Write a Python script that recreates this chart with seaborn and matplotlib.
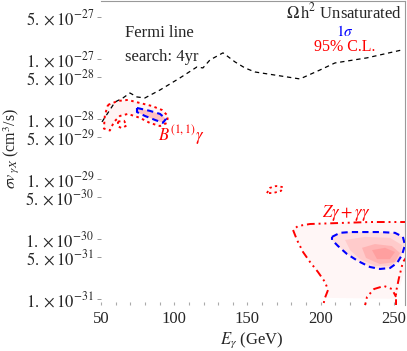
import numpy as np
import matplotlib
matplotlib.use("Agg")
import matplotlib.pyplot as plt
import seaborn as sns

# ------------------------------
# data (E in GeV, sigma v in cm^3/s)
# ------------------------------

# Fermi 4yr line search limit
fermi_E = [50.7, 56.1, 59.6, 65.0, 69.8, 74.6, 80.0, 90.3, 103.9, 115.5, 119.6, 124.4,
           133.3, 141.5, 148.3, 155.1, 185.8, 199.5, 209.7, 231.6, 255.5]
fermi_sv = [8.9e-29, 1.41e-28, 1.91e-28, 2.23e-28, 2.70e-28, 2.32e-28, 2.23e-28, 3.03e-28,
            4.81e-28, 7.33e-28, 7.06e-28, 9.6e-28, 1.26e-27, 8.9e-28, 7.06e-28, 6.05e-28,
            4.63e-28, 6.53e-28, 8.55e-28, 1.04e-27, 1.41e-27]

# B(1,1) gamma region: 1 sigma and 95% C.L.
b_1s_E = [74.6, 83.4, 90.3, 94.4, 92.3, 86.9, 80.0, 74.6, 74.6]
b_1s_sv = [1.52e-28, 1.36e-28, 1.21e-28, 1.0e-28, 8.6e-29, 9.6e-29, 1.12e-28, 1.30e-28, 1.52e-28]

b_95_E = [54.8, 61.6, 68.4, 76.6, 84.8, 91.6, 95.7, 95.1, 90.3, 83.4, 76.6, 68.4, 63.0,
          58.9, 56.1, 52.0, 52.7, 54.8]
b_95_sv = [1.71e-28, 1.99e-28, 2.07e-28, 1.84e-28, 1.64e-28, 1.41e-28, 1.12e-28, 8.55e-29,
           7.6e-29, 8.55e-29, 1.04e-28, 1.21e-28, 1.12e-28, 8.9e-29, 6.4e-29, 6.9e-29,
           1.16e-28, 1.71e-28]

b_island_E = [61.6, 65.7, 67.7, 64.3, 61.6, 61.6]
b_island_sv = [9.0e-29, 9.3e-29, 7.8e-29, 7.0e-29, 7.5e-29, 9.0e-29]

# small blob near 170 GeV
blob_E = [163.3, 165.4, 169.5, 174.2, 172.9, 167.4, 163.3]
blob_sv = [5.8e-30, 7.1e-30, 7.6e-30, 7.3e-30, 6.3e-30, 5.8e-30, 5.8e-30]

# Z gamma + gamma gamma region, 95% C.L. (dash-dot)
z95_E = [262.0, 233.6, 213.1, 192.7, 184.5, 181.1, 183.8, 187.9, 192.7, 198.1, 202.9,
         205.0, 202.9, 200.9]
z95_sv = [1.91e-30, 1.91e-30, 1.84e-30, 1.77e-30, 1.64e-30, 1.41e-30, 9.6e-31, 6.05e-31,
          4.12e-31, 2.81e-31, 1.91e-31, 1.41e-31, 1.04e-31, 6.5e-32]

z95r_E = [262.0, 256.1, 253.4, 251.4, 251.4]
z95r_sv = [6.5e-31, 4.1e-31, 2.23e-31, 1.30e-31, 6.5e-32]

z95arc_E = [229.5, 231.6, 236.4, 243.2, 248.6, 251.4]
z95arc_sv = [6.5e-32, 1.08e-31, 1.46e-31, 1.64e-31, 1.46e-31, 1.08e-31]

# Z gamma 1 sigma (dashed blue)
z1s_E = [207.7, 213.1, 220.0, 230.2, 240.4, 250.7, 256.1, 257.5, 255.5, 252.1, 247.3,
         240.4, 233.6, 225.4, 217.9, 211.8, 207.7, 207.7]
z1s_sv = [1.08e-30, 1.26e-30, 1.30e-30, 1.30e-30, 1.30e-30, 1.26e-30, 1.08e-30, 7.9e-31,
          5.4e-31, 3.97e-31, 3.27e-31, 3.15e-31, 3.4e-31, 4.28e-31, 5.6e-31, 7.6e-31,
          9.6e-31, 1.08e-30]

# likelihood shading levels inside the 1 sigma region
zmid_E = [216.6, 230.2, 247.3, 255.5, 254.1, 247.3, 237.0, 226.8, 220.0, 216.6]
zmid_sv = [9.6e-31, 1.08e-30, 1.04e-30, 7.9e-31, 4.8e-31, 3.54e-31, 3.54e-31, 4.6e-31,
           6.5e-31, 9.6e-31]
zcore_E = [228.2, 237.0, 248.6, 254.1, 250.7, 240.4, 230.9, 228.2]
zcore_sv = [7.1e-31, 8.2e-31, 7.6e-31, 5.8e-31, 4.1e-31, 3.8e-31, 4.8e-31, 7.1e-31]
zpeak_E = [235.0, 243.9, 250.7, 247.3, 238.4, 235.0]
zpeak_sv = [6.5e-31, 7.1e-31, 6.05e-31, 4.6e-31, 4.6e-31, 6.5e-31]

ytick_vals = [5e-27, 1e-27, 5e-28, 1e-28, 5e-29, 1e-29, 5e-30, 1e-30, 5e-31, 1e-31]
ytick_labels = [r"$5.\times10^{-27}$", r"$1.\times10^{-27}$", r"$5.\times10^{-28}$",
                r"$1.\times10^{-28}$", r"$5.\times10^{-29}$", r"$1.\times10^{-29}$",
                r"$5.\times10^{-30}$", r"$1.\times10^{-30}$", r"$5.\times10^{-31}$",
                r"$1.\times10^{-31}$"]
xtick_vals = [50, 100, 150, 200, 250]

# ------------------------------
# style
# ------------------------------
sns.set_style("white")
plt.rcParams['font.family'] = ['Liberation Serif', 'DejaVu Serif']
plt.rcParams['mathtext.fontset'] = 'stix'

fig = plt.figure(figsize=(4.07, 3.51), dpi=100)
ax = fig.add_axes([0.248, 0.131, 0.747, 0.866])
ax.set_yscale('log')

# shading (layered, lighter outside)
zfull_E = z95_E[:-1] + [251.4, 262.0]
zfull_sv = z95_sv[:-1] + [1.0e-31, 6.5e-31]
ax.fill(zfull_E, zfull_sv, color='#ff3030', alpha=0.04, lw=0)
ax.fill(z1s_E, z1s_sv, color='#ff4040', alpha=0.12, lw=0)
ax.fill(zmid_E, zmid_sv, color='#ff4040', alpha=0.12, lw=0)
ax.fill(zcore_E, zcore_sv, color='#ff3030', alpha=0.15, lw=0)
ax.fill(zpeak_E, zpeak_sv, color='#ff3030', alpha=0.15, lw=0)
ax.fill(b_95_E, b_95_sv, color='#ff6060', alpha=0.07, lw=0)
ax.fill(b_1s_E, b_1s_sv, color='#ff4040', alpha=0.28, lw=0)
ax.fill(blob_E, blob_sv, color='#ff6060', alpha=0.05, lw=0)

red_dd = (0, (4, 2, 1, 2, 1, 2))
red_dot = (0, (1.3, 1.8))
blue_dash = (0, (3, 2))

sns.lineplot(x=fermi_E, y=fermi_sv, sort=False, estimator=None, color='black',
             linewidth=0.9, linestyle=(0, (3.5, 3)), ax=ax)

sns.lineplot(x=b_95_E, y=b_95_sv, sort=False, estimator=None, color='red',
             linewidth=1.4, linestyle=red_dot, ax=ax)
sns.lineplot(x=b_island_E, y=b_island_sv, sort=False, estimator=None, color='red',
             linewidth=1.4, linestyle=red_dot, ax=ax)
sns.lineplot(x=b_1s_E, y=b_1s_sv, sort=False, estimator=None, color='blue',
             linewidth=1.5, linestyle=blue_dash, ax=ax)
sns.lineplot(x=blob_E, y=blob_sv, sort=False, estimator=None, color='red',
             linewidth=1.3, linestyle=red_dot, ax=ax)

for xs, ys in [(z95_E, z95_sv), (z95r_E, z95r_sv), (z95arc_E, z95arc_sv)]:
    sns.lineplot(x=xs, y=ys, sort=False, estimator=None, color='red',
                 linewidth=1.4, linestyle=red_dd, ax=ax)
sns.lineplot(x=z1s_E, y=z1s_sv, sort=False, estimator=None, color='blue',
             linewidth=1.5, linestyle=blue_dash, ax=ax)

# axes
ax.set_xlim(50, 257.5)
ax.set_ylim(7.9e-32, 9.2e-27)
ax.set_xticks(xtick_vals)
ax.set_xticks(np.arange(50, 260, 10), minor=True)
ax.set_yticks(ytick_vals)
ax.set_yticklabels(ytick_labels)
ax.yaxis.set_minor_locator(matplotlib.ticker.NullLocator())
ax.tick_params(axis='y', which='major', direction='out', length=3, width=0.6,
               color='#888888', labelsize=12, pad=2, left=True)
ax.tick_params(axis='x', which='both', direction='in', length=2, width=0.8,
               color='#aaaaaa', labelsize=12, pad=4, bottom=True)
ax.set_xlabel("")
ax.set_ylabel("")
for side in ['left', 'bottom']:
    ax.spines[side].set_visible(False)
for side in ['top', 'right']:
    ax.spines[side].set_color('#999999')
    ax.spines[side].set_linewidth(0.8)

fig.text(252 / 407, 1 - 340 / 351, r"$E_\gamma$ (GeV)", ha='center', va='center', fontsize=12)
fig.text(12 / 407, 1 - 148 / 351, r"$\sigma v_{\,\gamma X}$ (cm$^3$/s)", ha='center',
         va='center', rotation=90, fontsize=11.5)

# annotations
ax.text(0.079, 0.895, "Fermi line", transform=ax.transAxes, ha='left', va='center', fontsize=12)
ax.text(0.079, 0.816, "search: 4yr", transform=ax.transAxes, ha='left', va='center', fontsize=12)
ax.text(0.80, 0.962, r"$\Omega\,\mathrm{h}^2$ Unsaturated", transform=ax.transAxes,
        ha='center', va='center', fontsize=12)
ax.text(0.803, 0.899, r"$1\sigma$", transform=ax.transAxes, ha='center', va='center',
        fontsize=11, color='blue')
ax.text(0.803, 0.848, "95% C.L.", transform=ax.transAxes, ha='center', va='center',
        fontsize=11.5, color='red')
ax.text(0.1875, 0.559, r"$B^{(1,1)}\gamma$", transform=ax.transAxes, ha='left', va='center',
        fontsize=12, color='red')
ax.text(0.806, 0.303, r"$Z\gamma+\gamma\gamma$", transform=ax.transAxes, ha='center',
        va='center', fontsize=12, color='red')

fig.savefig("out.png", dpi=100)
